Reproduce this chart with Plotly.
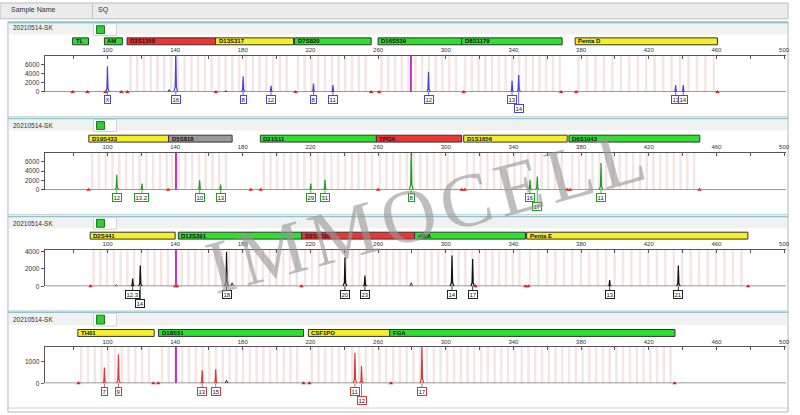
import plotly.graph_objects as go

# ---------------- data ----------------
sample_name = "20210514-SK"
header_cols = ["Sample Name", "SQ"]

size_ticks = list(range(80, 501, 20))
size_tick_labels = [str(v) if (v - 100) % 40 == 0 and v >= 100 else "" for v in size_ticks]

dye_colors = ["#4a44d8", "#1f9f1f", "#111111", "#d43a3a"]

# panel 1 (blue)
p1_loci = ["TL", "AM", "D3S1358", "D13S317", "D7S820", "D16S539", "D8S1179", "Penta D"]
p1_loci_start = [79.4, 98.2, 111.6, 163.9, 210.6, 260.0, 309.4, 376.5]
p1_loci_end = [88.8, 108.8, 163.9, 210.0, 255.9, 309.4, 368.8, 460.6]
p1_loci_color = ["green", "green", "red", "yellow", "green", "green", "green", "yellow"]
p1_peak_bp = [100.0, 140.4, 180.2, 196.7, 221.8, 233.3, 289.8, 339.2, 343.1, 435.9, 440.4]
p1_peak_rfu = [5600, 9000, 3400, 1300, 1800, 1500, 4400, 2400, 3700, 1500, 1500]
p1_alleles = ["X", "16", "8", "12", "8", "11", "12", "13", "14", "13", "14"]
p1_label_row = [1, 1, 1, 1, 1, 1, 1, 1, 2, 1, 1]
p1_marks = [79.4, 88.2, 98.8, 108.2, 111.8, 164.1, 211.2, 255.9, 260.6, 310.6, 368.2, 377.1, 460.6]
p1_minor_bp = [136.5, 170.0]
p1_minor_rfu = [500, 200]
p1_pull_bp = [279.4]

# panel 2 (green)
p2_loci = ["D19S433", "D5S818", "D21S11", "TPOX", "D1S1656", "D6S1043"]
p2_loci_start = [89.0, 136.1, 190.4, 259.0, 310.6, 372.8]
p2_loci_end = [136.1, 173.7, 259.0, 309.4, 371.8, 450.2]
p2_loci_color = ["yellow", "grey", "green", "red", "yellow", "green"]
p2_peak_bp = [105.5, 120.4, 154.5, 166.9, 220.2, 228.6, 279.6, 349.8, 354.1, 391.8]
p2_peak_rfu = [3200, 1300, 2000, 1100, 1300, 2100, 9000, 2100, 2800, 5700]
p2_alleles = ["12", "13.2", "10", "13", "29", "31", "8", "16", "17", "11"]
p2_label_row = [1, 1, 1, 1, 1, 1, 1, 1, 2, 1]
p2_marks = [88.8, 135.9, 184.7, 190.6, 260.0, 309.4, 311.2, 371.8, 373.5, 450.0]
p2_minor_bp = []
p2_minor_rfu = []
p2_pull_bp = [140.5]

# panel 3 (black)
p3_loci = ["D2S441", "D12S391", "D2S1338", "vWA", "Penta E"]
p3_loci_start = [89.8, 141.9, 214.9, 281.6, 347.8]
p3_loci_end = [140.0, 214.9, 281.6, 347.1, 478.6]
p3_loci_color = ["yellow", "green", "red", "green", "yellow"]
p3_peak_bp = [114.9, 119.4, 170.4, 240.4, 252.2, 303.7, 315.9, 396.9, 437.5]
p3_peak_rfu = [880, 2400, 4000, 3350, 1250, 3550, 3150, 700, 2400]
p3_alleles = ["12.3", "14", "18", "20", "23", "14", "17", "13", "21"]
p3_label_row = [1, 2, 1, 1, 1, 1, 1, 1, 1]
p3_marks = [90.0, 140.0, 141.2, 214.7, 317.6, 347.1, 348.8, 478.8]
p3_minor_bp = [105.3, 173.7, 279.6]
p3_minor_rfu = [150, 400, 400]
p3_pull_bp = [140.5]

# panel 4 (red)
p4_loci = ["TH01", "D18S51", "CSF1PO", "FGA"]
p4_loci_start = [82.5, 130.2, 218.8, 266.9]
p4_loci_end = [127.6, 215.9, 266.9, 435.5]
p4_loci_color = ["yellow", "green", "yellow", "green"]
p4_peak_bp = [98.2, 106.5, 156.0, 164.0, 246.3, 250.2, 285.9]
p4_peak_rfu = [740, 1350, 610, 660, 1430, 810, 1800]
p4_alleles = ["7", "9", "13", "15", "11", "12", "17"]
p4_label_row = [1, 1, 1, 1, 1, 2, 1]
p4_marks = [82.9, 127.1, 130.0, 215.9, 219.4, 267.6, 435.3]
p4_minor_bp = [170.4]
p4_minor_rfu = [150]
p4_pull_bp = [140.5]

# ---------------- layout geometry (pixels) ----------------
W, H = 800, 415
X_LEFT_PX, X_RIGHT_PX = 45, 790
PX_PER_BP = 1.7
BP_AT_PX108 = 100
x_range = [BP_AT_PX108 + (X_LEFT_PX - 108) / PX_PER_BP, BP_AT_PX108 + (X_RIGHT_PX - 108) / PX_PER_BP]

panels = [
    dict(top=54.3, zero=91.0, ymax=7900, ticks=[0, 2000, 4000, 6000], bar=(36.3, 43.3), head=(22, 33), label_y=26,
         loci=p1_loci, ls=p1_loci_start, le=p1_loci_end, lc=p1_loci_color,
         pk=p1_peak_bp, rfu=p1_peak_rfu, al=p1_alleles, row=p1_label_row, marks=p1_marks,
         mbp=p1_minor_bp, mrfu=p1_minor_rfu, pull=p1_pull_bp),
    dict(top=152.7, zero=190.0, ymax=7900, ticks=[0, 2000, 4000, 6000], bar=(134.8, 141.8), head=(119, 130), label_y=125,
         loci=p2_loci, ls=p2_loci_start, le=p2_loci_end, lc=p2_loci_color,
         pk=p2_peak_bp, rfu=p2_peak_rfu, al=p2_alleles, row=p2_label_row, marks=p2_marks,
         mbp=p2_minor_bp, mrfu=p2_minor_rfu, pull=p2_pull_bp),
    dict(top=250.7, zero=287.7, ymax=4230, ticks=[0, 2000, 4000], bar=(233.0, 240.0), head=(218, 229), label_y=224,
         loci=p3_loci, ls=p3_loci_start, le=p3_loci_end, lc=p3_loci_color,
         pk=p3_peak_bp, rfu=p3_peak_rfu, al=p3_alleles, row=p3_label_row, marks=p3_marks,
         mbp=p3_minor_bp, mrfu=p3_minor_rfu, pull=p3_pull_bp),
    dict(top=349.3, zero=386.0, ymax=1690, ticks=[0, 1000], bar=(331.5, 338.5), head=(315, 327), label_y=321,
         loci=p4_loci, ls=p4_loci_start, le=p4_loci_end, lc=p4_loci_color,
         pk=p4_peak_bp, rfu=p4_peak_rfu, al=p4_alleles, row=p4_label_row, marks=p4_marks,
         mbp=p4_minor_bp, mrfu=p4_minor_rfu, pull=p4_pull_bp),
]

bar_fill = {"green": "#2ee02e", "red": "#ee3535", "yellow": "#f7ef25", "grey": "#9a9a9a"}
FONT = "Liberation Sans, Arial, sans-serif"


def py(px):
    return 1 - px / H


def pxx(px):
    return px / W


fig = go.Figure()
shapes = []
annotations = []
layout_axes = {}

# header
shapes.append(dict(type="rect", xref="paper", yref="paper", x0=0, x1=pxx(792), y0=py(17), y1=py(1),
                   fillcolor="#ececec", line=dict(color="#bdbdbd", width=1), layer="below"))
shapes.append(dict(type="line", xref="paper", yref="paper", x0=pxx(93), x1=pxx(93), y0=py(17), y1=py(1),
                   line=dict(color="#c4c4c4", width=1)))
annotations.append(dict(x=pxx(9), y=py(8.5), xref="paper", yref="paper", text=header_cols[0], showarrow=False,
                        xanchor="left", yanchor="middle", font=dict(size=7, color="#333", family=FONT)))
annotations.append(dict(x=pxx(96), y=py(8.5), xref="paper", yref="paper", text=header_cols[1], showarrow=False,
                        xanchor="left", yanchor="middle", font=dict(size=7, color="#333", family=FONT)))
shapes.append(dict(type="rect", xref="paper", yref="paper", x0=pxx(8), x1=pxx(792), y0=0, y1=py(20),
                   fillcolor="rgba(0,0,0,0)", line=dict(color="#b5b5b5", width=1), layer="below"))

for i, p in enumerate(panels):
    n = i + 1
    xa = "x" if n == 1 else f"x{n}"
    ya = "y" if n == 1 else f"y{n}"
    col = dye_colors[i]

    # panel header band
    h0, h1 = p["head"]
    shapes.append(dict(type="line", xref="paper", yref="paper", x0=pxx(8), x1=pxx(792), y0=py(h0 - 1), y1=py(h0 - 1),
                       line=dict(color="#86c8d0", width=1.5)))
    shapes.append(dict(type="rect", xref="paper", yref="paper", x0=pxx(9), x1=pxx(791), y0=py(h1), y1=py(h0),
                       fillcolor="#f1f1f1", line=dict(width=0), layer="below"))
    annotations.append(dict(x=pxx(11), y=py(p["label_y"]), xref="paper", yref="paper", text=sample_name,
                            showarrow=False, xanchor="left", yanchor="middle",
                            font=dict(size=6.5, color="#333", family=FONT)))
    # icon
    shapes.append(dict(type="rect", xref="paper", yref="paper", x0=pxx(94), x1=pxx(117), y0=py(h1 + 1), y1=py(h0),
                       fillcolor="white", line=dict(color="#d0d0d0", width=1)))
    shapes.append(dict(type="rect", xref="paper", yref="paper", x0=pxx(97), x1=pxx(105), y0=py(h1 - 1), y1=py(h0 + 2),
                       fillcolor="#33cc33", line=dict(color="#1a7a1a", width=1)))

    # locus bars
    b0, b1 = p["bar"]
    for name, s, e, c in zip(p["loci"], p["ls"], p["le"], p["lc"]):
        shapes.append(dict(type="rect", xref=xa, yref="paper", x0=s, x1=e, y0=py(b1), y1=py(b0),
                           fillcolor=bar_fill[c], line=dict(color="#333", width=1)))
        annotations.append(dict(x=s, y=py((b0 + b1) / 2), xref=xa, yref="paper", text=f"<b>{name}</b>",
                                showarrow=False, xanchor="left", yanchor="middle", xshift=1,
                                font=dict(size=6, color="#4a0000" if c == "red" else "#111", family=FONT)))
        # bins inside each locus
        if e - s > 20:
            step = 5 if name.startswith("Penta") else 4
            b = s + 2
            while b < e - 1:
                shapes.append(dict(type="rect", xref=xa, yref=ya, x0=b - 0.45, x1=b + 0.45, y0=0, y1=p["ymax"],
                                   fillcolor="rgba(234,234,234,0.8)",
                                   line=dict(color="rgba(245,212,212,0.9)", width=0.6), layer="below"))
                b += step

    # axes
    layout_axes["xaxis" if n == 1 else f"xaxis{n}"] = dict(
        domain=[pxx(X_LEFT_PX), pxx(X_RIGHT_PX)], range=x_range, anchor=ya, side="top",
        showline=True, linecolor="#555", linewidth=1, ticks="inside", ticklen=3, tickcolor="#555",
        tickvals=size_ticks, ticktext=size_tick_labels, tickfont=dict(size=6, color="#333", family=FONT),
        showgrid=False, zeroline=False, fixedrange=True)
    layout_axes["yaxis" if n == 1 else f"yaxis{n}"] = dict(
        domain=[py(p["zero"]), py(p["top"])], range=[0, p["ymax"]], anchor=xa,
        showline=True, linecolor="#555", linewidth=1, ticks="outside", ticklen=3, tickcolor="#555",
        tickvals=p["ticks"], tickfont=dict(size=6.5, color="#333", family=FONT),
        showgrid=False, zeroline=False, fixedrange=True)

    # baseline
    fig.add_trace(go.Scatter(x=[x_range[0], x_range[1]], y=[0, 0], xaxis=xa, yaxis=ya, mode="lines",
                             line=dict(color="#7a7a7a", width=1.5), hoverinfo="skip", showlegend=False))
    # pull-up / off-scale lines
    for b in p["pull"]:
        shapes.append(dict(type="line", xref=xa, yref=ya, x0=b, x1=b, y0=0, y1=p["ymax"],
                           line=dict(color="#c42fc4", width=2)))
    # minor peaks
    mx, my = [], []
    for b, h in zip(p["mbp"], p["mrfu"]):
        mx += [b - 0.8, b, b + 0.8, None]
        my += [0, h, 0, None]
    if mx:
        fig.add_trace(go.Scatter(x=mx, y=my, xaxis=xa, yaxis=ya, mode="lines",
                                 line=dict(color="#333", width=1), hoverinfo="skip", showlegend=False))
    # peaks
    px_, py_ = [], []
    for b, h in zip(p["pk"], p["rfu"]):
        px_ += [b - 1.1, b - 0.35, b, b + 0.35, b + 1.1, None]
        py_ += [0, h * 0.12, h, h * 0.12, 0, None]
    fig.add_trace(go.Scatter(x=px_, y=py_, xaxis=xa, yaxis=ya, mode="lines",
                             line=dict(color=col, width=1.2), hoverinfo="skip", showlegend=False))
    # red markers
    fig.add_trace(go.Scatter(x=p["marks"], y=[0] * len(p["marks"]), xaxis=xa, yaxis=ya, mode="markers",
                             marker=dict(color="#e02020", size=4, symbol="triangle-up"), cliponaxis=False,
                             hoverinfo="skip", showlegend=False))
    # allele labels
    for b, a, r in zip(p["pk"], p["al"], p["row"]):
        annotations.append(dict(x=b, y=0, xref=xa, yref=ya, text=a, showarrow=True, arrowhead=0,
                                arrowwidth=0.8, arrowcolor=col, ax=0, ay=8 if r == 1 else 17,
                                bordercolor=col if i != 2 else "#222", borderwidth=1, borderpad=0.5,
                                bgcolor="white", font=dict(size=6, color="#222", family=FONT)))

    # panel separator line
    shapes.append(dict(type="line", xref="paper", yref="paper", x0=pxx(8), x1=pxx(792),
                       y0=py(p["zero"] + 25), y1=py(p["zero"] + 25), line=dict(color="#cfcfcf", width=1)))

# watermark
annotations.append(dict(x=pxx(428), y=py(212), xref="paper", yref="paper",
                        text="I\u200aM\u200aM\u200aO\u200aC\u200aE\u200aL\u200aL", showarrow=False,
                        xanchor="center", yanchor="middle",
                        textangle=-15, font=dict(size=76, color="rgba(150,150,150,0.62)",
                                                 family="Liberation Serif, DejaVu Serif, serif")))

fig.update_layout(width=W, height=H, margin=dict(l=0, r=0, t=0, b=0), paper_bgcolor="white",
                  plot_bgcolor="rgba(0,0,0,0)", shapes=shapes, annotations=annotations, showlegend=False,
                  **layout_axes)

fig.write_html("out.html", config={"displayModeBar": False},
               post_script="document.body.style.margin='0px';document.body.style.overflow='hidden';")
